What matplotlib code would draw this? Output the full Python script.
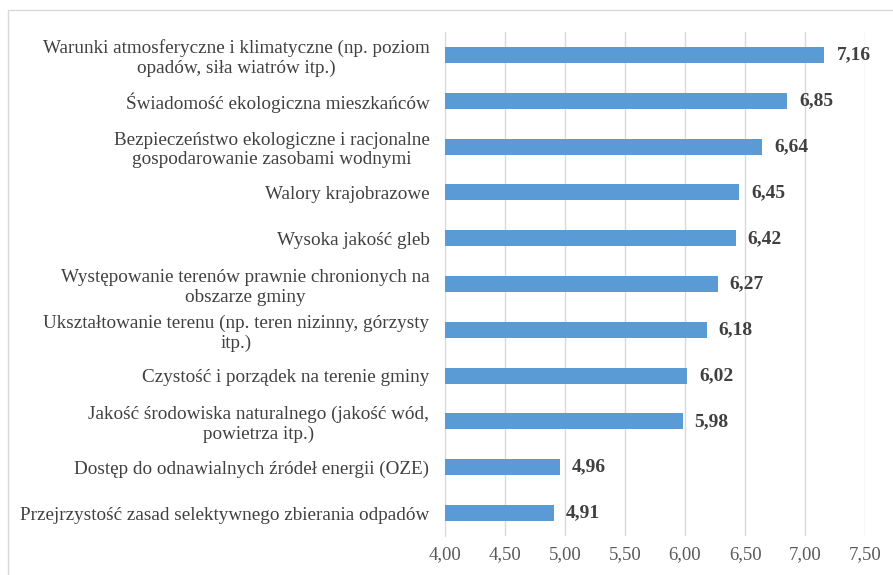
import matplotlib.pyplot as plt
from matplotlib.patches import Rectangle

plt.rcParams['font.family'] = ['Liberation Serif', 'DejaVu Serif']

categories = [
    'Warunki atmosferyczne i klimatyczne (np. poziom\nopadów, siła wiatrów itp.)',
    'Świadomość ekologiczna mieszkańców',
    'Bezpieczeństwo ekologiczne i racjonalne\ngospodarowanie zasobami wodnymi',
    'Walory krajobrazowe',
    'Wysoka jakość gleb',
    'Występowanie terenów prawnie chronionych na\nobszarze gminy',
    'Ukształtowanie terenu (np. teren nizinny, górzysty\nitp.)',
    'Czystość i porządek na terenie gminy',
    'Jakość środowiska naturalnego (jakość wód,\npowietrza itp.)',
    'Dostęp do odnawialnych źródeł energii (OZE)',
    'Przejrzystość zasad selektywnego zbierania odpadów',
]
values = [7.16, 6.85, 6.64, 6.45, 6.42, 6.27, 6.18, 6.02, 5.98, 4.96, 4.91]
ticks = [4.0, 4.5, 5.0, 5.5, 6.0, 6.5, 7.0, 7.5]

fig = plt.figure(figsize=(8.93, 5.75), dpi=100)
ax = fig.add_axes([0.498, 0.068, 0.471, 0.876])

pos = list(range(len(values)))[::-1]
ax.barh(pos, [v - 4 for v in values], left=4, height=0.35, color='#5b9bd5', zorder=3)

for p, v in zip(pos, values):
    ax.text(v + 0.1, p, f'{v:.2f}'.replace('.', ','), va='center', ha='left',
            fontsize=14, fontweight='bold', color='#404040')

ax.set_xlim(4, 7.5)
ax.set_ylim(-0.5, len(values) - 0.5)
ax.set_xticks(ticks)
ax.set_xticklabels([f'{t:.2f}'.replace('.', ',') for t in ticks], fontsize=13.5, color='#595959')
ax.set_yticks(pos)
ax.set_yticklabels(categories, fontsize=13.75, color='#404040', ha='right',
                   multialignment='center')
ax.tick_params(axis='y', length=0, pad=11)
ax.tick_params(axis='x', length=0, pad=7)
ax.grid(axis='x', color='#d9d9d9', linewidth=1, zorder=0)
for s in ['top', 'right', 'bottom']:
    ax.spines[s].set_visible(False)
ax.spines['left'].set_color('#d9d9d9')

fig.patches.append(Rectangle((8 / 893, -0.05), 1.0, 1 - 10 / 575 + 0.05,
                             transform=fig.transFigure, fill=False,
                             edgecolor='#d9d9d9', linewidth=1))

fig.savefig('out.png', dpi=100)
